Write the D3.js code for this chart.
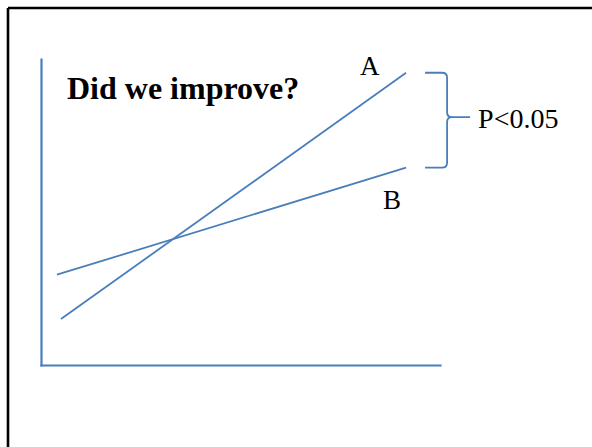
<!DOCTYPE html>
<html>
<head>
<meta charset="utf-8">
<script src="https://cdn.jsdelivr.net/npm/d3@7"></script>
<style>
  html, body { margin: 0; padding: 0; background: #fff; }
  svg { display: block; }
  text { font-family: "Liberation Serif", "Times New Roman", serif; fill: #000; }
</style>
</head>
<body>
<svg id="chart" width="592" height="447"></svg>
<script>
// Two groups measured at a start and an end point (arbitrary units)
const groups = ["A", "B"];
const seriesA = [{ x: 0.5, y: 1.5 }, { x: 9.15, y: 9.55 }];
const seriesB = [{ x: 0.4, y: 2.95 }, { x: 9.15, y: 6.45 }];
const xDomain = [0, 10];
const yDomain = [0, 10];
const title = "Did we improve?";
const significance = "P<0.05";

const blue = "#4a7ebb";
const svg = d3.select("#chart");

// Slide frame: heavy rule along the top and left edges
svg.append("line").attr("x1", 8).attr("y1", 8).attr("x2", 592).attr("y2", 8)
  .attr("stroke", "#000").attr("stroke-width", 2.6);
svg.append("line").attr("x1", 8).attr("y1", 8).attr("x2", 8).attr("y2", 447)
  .attr("stroke", "#000").attr("stroke-width", 2.6);

const plot = { left: 41, right: 440, top: 59, bottom: 365 };
const x = d3.scaleLinear().domain(xDomain).range([plot.left, plot.right]);
const y = d3.scaleLinear().domain(yDomain).range([plot.bottom, plot.top]);

// Bare axes: just the domain lines, no ticks
const xAxis = svg.append("g").attr("transform", `translate(0,${plot.bottom})`)
  .call(d3.axisBottom(x).tickValues([]).tickSizeOuter(0));
const yAxis = svg.append("g").attr("transform", `translate(${plot.left},0)`)
  .call(d3.axisLeft(y).tickValues([]).tickSizeOuter(0));
[xAxis, yAxis].forEach(g => g.select(".domain")
  .attr("stroke", blue).attr("stroke-width", 2.2).attr("stroke-linecap", "square"));

const line = d3.line().x(d => x(d.x)).y(d => y(d.y));
[seriesA, seriesB].forEach(s => {
  svg.append("path").datum(s).attr("d", line)
    .attr("fill", "none").attr("stroke", blue).attr("stroke-width", 1.8);
});

// Series labels
const endA = seriesA[seriesA.length - 1];
const endB = seriesB[seriesB.length - 1];
svg.append("text").attr("x", x(endA.x) - 46).attr("y", y(endA.y) + 2)
  .attr("font-size", 27).text(groups[0]);
svg.append("text").attr("x", x(endB.x) - 23).attr("y", y(endB.y) + 41)
  .attr("font-size", 27).text(groups[1]);

// Title
svg.append("text").attr("x", 67).attr("y", 99)
  .attr("font-size", 32).attr("font-weight", "bold").text(title);

// Curly brace spanning the two end values
const bx0 = x(endA.x) + 19, bx1 = x(endA.x) + 41, tip = x(endA.x) + 64;
const yTop = y(endA.y), yBot = y(endB.y), yMid = (yTop + yBot) / 2 - 3;
const r = 5;
const brace = d3.path();
brace.moveTo(bx0, yTop);
brace.lineTo(bx1 - r, yTop);
brace.quadraticCurveTo(bx1, yTop, bx1, yTop + r);
brace.lineTo(bx1, yMid - r);
brace.quadraticCurveTo(bx1, yMid, bx1 + r, yMid);
brace.lineTo(tip, yMid);
brace.moveTo(bx1 + r, yMid);
brace.quadraticCurveTo(bx1, yMid, bx1, yMid + r);
brace.lineTo(bx1, yBot - r);
brace.quadraticCurveTo(bx1, yBot, bx1 - r, yBot);
brace.lineTo(bx0, yBot);
svg.append("path").attr("d", brace.toString())
  .attr("fill", "none").attr("stroke", blue).attr("stroke-width", 1.8);

svg.append("text").attr("x", tip + 8).attr("y", yMid + 11)
  .attr("font-size", 28).text(significance);
</script>
</body>
</html>
